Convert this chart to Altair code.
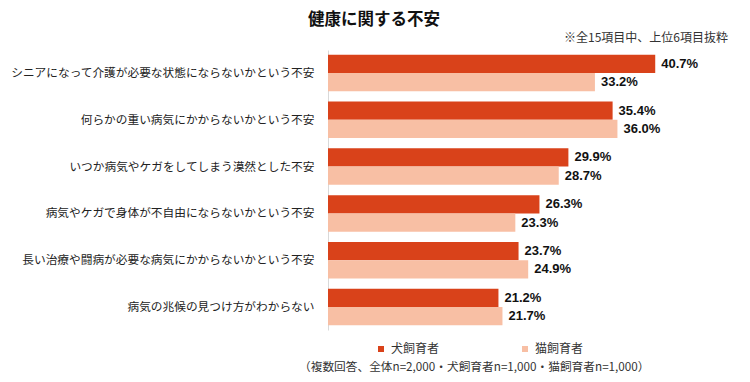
import altair as alt
import pandas as pd

categories = [
    "シニアになって介護が必要な状態にならないかという不安",
    "何らかの重い病気にかからないかという不安",
    "いつか病気やケガをしてしまう漠然とした不安",
    "病気やケガで身体が不自由にならないかという不安",
    "長い治療や闘病が必要な病気にかからないかという不安",
    "病気の兆候の見つけ方がわからない",
]
series = ["犬飼育者", "猫飼育者"]
dog_values = [40.7, 35.4, 29.9, 26.3, 23.7, 21.2]
cat_values = [33.2, 36.0, 28.7, 23.3, 24.9, 21.7]
colors = ["#D9421A", "#F8BFA4"]

title_text = "健康に関する不安"
subtitle_text = "※全15項目中、上位6項目抜粋"
footnote_text = "（複数回答、全体n=2,000・犬飼育者n=1,000・猫飼育者n=1,000）"

rows = []
for c, d, k in zip(categories, dog_values, cat_values):
    rows.append({"category": c, "series": series[0], "value": d, "label": f"{d:.1f}%"})
    rows.append({"category": c, "series": series[1], "value": k, "label": f"{k:.1f}%"})
df = pd.DataFrame(rows)

JP = "Noto Sans CJK JP"
NUM = "Liberation Sans, Arial, Noto Sans CJK JP"

y_enc = alt.Y(
    "category:N",
    sort=categories,
    scale=alt.Scale(paddingInner=0.22, paddingOuter=0.1),
    axis=alt.Axis(
        title=None,
        ticks=False,
        domain=True,
        domainColor="#D9D9D9",
        domainWidth=1,
        labelPadding=14,
        labelFont=JP,
        labelFontSize=11.7,
        labelColor="#222222",
        labelLimit=400,
    ),
)
yoff_enc = alt.YOffset("series:N", sort=series, scale=alt.Scale(paddingInner=0, paddingOuter=0))
x_enc = alt.X("value:Q", scale=alt.Scale(domain=[0, 50]), axis=None)

bars = alt.Chart(df).mark_bar().encode(
    x=x_enc,
    y=y_enc,
    yOffset=yoff_enc,
    color=alt.Color(
        "series:N",
        scale=alt.Scale(domain=series, range=colors),
        legend=alt.Legend(
            orient="none",
            legendX=47,
            legendY=293,
            direction="horizontal",
            title=None,
            symbolType="square",
            symbolSize=36,
            symbolStrokeWidth=0,
            labelFont=JP,
            labelFontSize=12,
            labelColor="#333333",
            labelOffset=4,
            columnPadding=79,
        ),
    ),
)

labels = alt.Chart(df).mark_text(
    align="left", baseline="middle", dx=6, font=NUM, fontSize=13, fontWeight="bold", color="#111111"
).encode(
    x=x_enc,
    y=y_enc,
    yOffset=yoff_enc,
    text="label:N",
)

title = alt.Chart(pd.DataFrame({"t": [title_text]})).mark_text(
    align="center", baseline="middle", font=JP, fontSize=16.5, fontWeight="bold", color="#111111"
).encode(x=alt.value(46), y=alt.value(-30), text="t:N")

subtitle = alt.Chart(pd.DataFrame({"t": [subtitle_text]})).mark_text(
    align="right", baseline="middle", font=JP, fontSize=12, color="#333333"
).encode(x=alt.value(400), y=alt.value(-12), text="t:N")

footnote = alt.Chart(pd.DataFrame({"t": [footnote_text]})).mark_text(
    align="left", baseline="middle", font=JP, fontSize=11.7, color="#333333"
).encode(x=alt.value(-29), y=alt.value(317), text="t:N")

chart = (
    alt.layer(bars, labels, title, subtitle, footnote)
    .properties(
        width=402,
        height=280,
        autosize=alt.AutoSizeParams(type="none"),
        padding={"left": 320, "top": 42, "right": 12, "bottom": 44},
        background="white",
    )
    .configure_view(stroke=None)
)

chart.save("out.html", embed_options={"renderer": "svg", "actions": False})
